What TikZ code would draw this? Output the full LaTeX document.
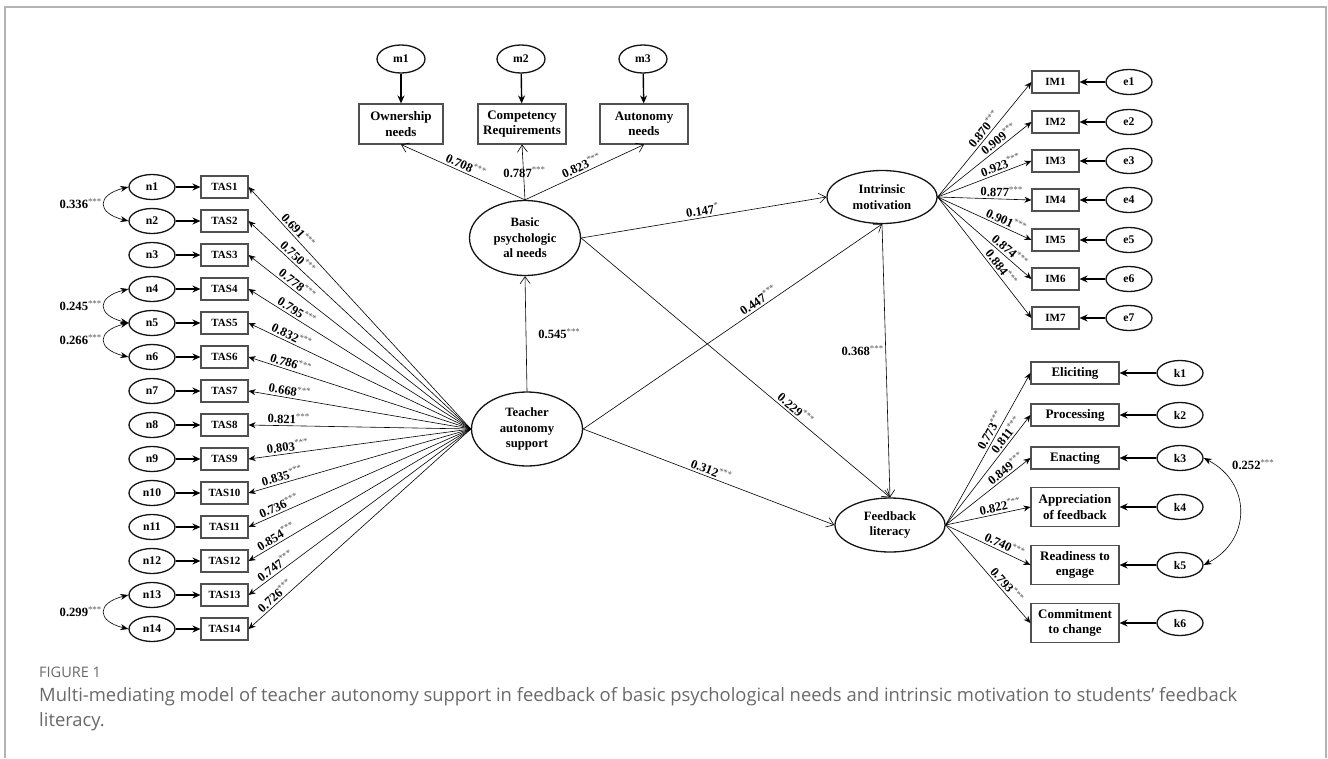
\documentclass[tikz,border=0pt]{standalone}
\usepackage{fontspec}
\setmainfont{Liberation Serif}
\newfontfamily\capfont{Open Sans}
\usepackage{tikz}
\usetikzlibrary{arrows.meta,shapes.geometric,positioning}
\usepackage{xcolor}
\definecolor{semblack}{RGB}{20,20,20}
\definecolor{boxgray}{RGB}{80,80,80}
\definecolor{stargray}{RGB}{85,85,85}
\definecolor{capgray}{RGB}{105,105,105}
\definecolor{framegray}{RGB}{180,180,180}
\newcommand{\sigstar}[1]{\textsuperscript{\textcolor{stargray}{\mdseries #1}}}
\tikzstyle{latent} = [ellipse, draw=semblack, line width=1.3pt, inner sep=0pt, minimum width=110pt, minimum height=54pt, align=center, font=\fontsize{12.7}{15.5}\selectfont\bfseries]
\tikzstyle{resid} = [ellipse, draw=semblack, line width=1.3pt, inner sep=0pt, minimum width=46pt, minimum height=25pt, font=\fontsize{11.7}{14}\selectfont\bfseries]
\tikzstyle{item} = [rectangle, draw=boxgray, line width=1.1pt, inner sep=0pt, minimum width=47pt, minimum height=22pt, font=\fontsize{11}{13}\selectfont\bfseries]
\tikzstyle{dimension} = [rectangle, draw=boxgray, line width=1.1pt, inner sep=0pt, minimum width=88pt, minimum height=22pt, align=center, font=\fontsize{13}{15.5}\selectfont\bfseries]
\tikzstyle{effect} = [line width=0.6pt, -{Straight Barb[length=7pt,width=10pt]}]
\tikzstyle{loading} = [line width=0.6pt, -{Stealth[length=7pt,width=6pt]}]
\tikzstyle{errarrow} = [line width=1.4pt, -{Stealth[length=8pt,width=7pt]}]
\tikzstyle{covar} = [line width=0.6pt, {Stealth[length=8pt,width=6pt]}-{Stealth[length=8pt,width=6pt]}]
\tikzstyle{coef} = [font=\fontsize{12.6}{15}\selectfont\bfseries, inner sep=2pt]

\begin{document}
\begin{tikzpicture}[x=1pt, y=1pt]
    \useasboundingbox (0,0) rectangle (1328,-758);
    % Frame
    \draw[framegray, line width=1.5pt] (5,-758) -- (5,-7) -- (1326,-7) -- (1326,-758);

    % Latent variables
    \node[latent, minimum width=111pt, minimum height=74pt] (teacher) at (527,-429) {Teacher\\autonomy\\support};
    \node[latent, minimum width=111pt, minimum height=75pt] (basic) at (525,-238) {Basic\\psychologic\\al needs};
    \node[latent, minimum height=53pt] (intrinsic) at (882,-197) {Intrinsic\\motivation};
    \node[latent] (feedback) at (890,-525) {Feedback\\literacy};

    % Basic psychological needs
    \node[resid, minimum width=48pt, minimum height=28pt] (m1) at (401,-59) {m1};
    \node[resid, minimum width=48pt, minimum height=28pt] (m2) at (521,-59) {m2};
    \node[resid, minimum width=48pt, minimum height=28pt] (m3) at (643,-59) {m3};
    \node[dimension, minimum width=84pt, minimum height=40pt] (owner) at (401,-124) {Ownership\\needs};
    \node[dimension, minimum height=40pt] (compet) at (522,-124) {Competency\\Requirements};
    \node[dimension, minimum height=40pt] (autonomy) at (644,-124) {Autonomy\\needs};
    \draw[errarrow] (m1) -- (owner);
    \draw[errarrow] (m2) -- (compet);
    \draw[errarrow] (m3) -- (autonomy);
    \draw[effect] (basic.north) -- (owner.south) node[coef, midway, above, sloped] {0.708\sigstar{***}};
    \draw[effect] (basic.north) -- (compet.south) node[coef, midway, xshift=1pt] {0.787\sigstar{***}};
    \draw[effect] (basic.north) -- (autonomy.south) node[coef, midway, above, sloped] {0.823\sigstar{***}};

    % Teacher autonomy support items
    \node[resid] (n1) at (152,-187) {n1};
    \node[resid] (n2) at (152,-221) {n2};
    \node[resid] (n3) at (152,-255) {n3};
    \node[resid] (n4) at (152,-289) {n4};
    \node[resid] (n5) at (152,-323) {n5};
    \node[resid] (n6) at (152,-357) {n6};
    \node[resid] (n7) at (152,-391) {n7};
    \node[resid] (n8) at (152,-425) {n8};
    \node[resid] (n9) at (152,-459) {n9};
    \node[resid] (n10) at (152,-493) {n10};
    \node[resid] (n11) at (152,-527) {n11};
    \node[resid] (n12) at (152,-561) {n12};
    \node[resid] (n13) at (152,-595) {n13};
    \node[resid] (n14) at (152,-629) {n14};

    \node[item] (tas1) at (224.5,-187) {TAS1};
    \node[item] (tas2) at (224.5,-221) {TAS2};
    \node[item] (tas3) at (224.5,-255) {TAS3};
    \node[item] (tas4) at (224.5,-289) {TAS4};
    \node[item] (tas5) at (224.5,-323) {TAS5};
    \node[item] (tas6) at (224.5,-357) {TAS6};
    \node[item] (tas7) at (224.5,-391) {TAS7};
    \node[item] (tas8) at (224.5,-425) {TAS8};
    \node[item] (tas9) at (224.5,-459) {TAS9};
    \node[item] (tas10) at (224.5,-493) {TAS10};
    \node[item] (tas11) at (224.5,-527) {TAS11};
    \node[item] (tas12) at (224.5,-561) {TAS12};
    \node[item] (tas13) at (224.5,-595) {TAS13};
    \node[item] (tas14) at (224.5,-629) {TAS14};

    \draw[errarrow] (n1) -- (tas1);
    \draw[errarrow] (n2) -- (tas2);
    \draw[errarrow] (n3) -- (tas3);
    \draw[errarrow] (n4) -- (tas4);
    \draw[errarrow] (n5) -- (tas5);
    \draw[errarrow] (n6) -- (tas6);
    \draw[errarrow] (n7) -- (tas7);
    \draw[errarrow] (n8) -- (tas8);
    \draw[errarrow] (n9) -- (tas9);
    \draw[errarrow] (n10) -- (tas10);
    \draw[errarrow] (n11) -- (tas11);
    \draw[errarrow] (n12) -- (tas12);
    \draw[errarrow] (n13) -- (tas13);
    \draw[errarrow] (n14) -- (tas14);

    % Loadings of teacher autonomy support
    \draw[loading] (teacher.west) -- (tas1.east) node[coef, pos=0.8, above, sloped] {0.691\sigstar{***}};
    \draw[loading] (teacher.west) -- (tas2.east) node[coef, pos=0.8, above, sloped] {0.750\sigstar{***}};
    \draw[loading] (teacher.west) -- (tas3.east) node[coef, pos=0.8, above, sloped] {0.778\sigstar{***}};
    \draw[loading] (teacher.west) -- (tas4.east) node[coef, pos=0.8, above, sloped] {0.795\sigstar{***}};
    \draw[loading] (teacher.west) -- (tas5.east) node[coef, pos=0.82, above, sloped] {0.832\sigstar{***}};
    \draw[loading] (teacher.west) -- (tas6.east) node[coef, pos=0.82, above, sloped] {0.786\sigstar{***}};
    \draw[loading] (teacher.west) -- (tas7.east) node[coef, pos=0.82, above, sloped] {0.668\sigstar{***}};
    \draw[loading] (teacher.west) -- (tas8.east) node[coef, pos=0.82, above, sloped] {0.821\sigstar{***}};
    \draw[loading] (teacher.west) -- (tas9.east) node[coef, pos=0.82, above, sloped] {0.803\sigstar{***}};
    \draw[loading] (teacher.west) -- (tas10.east) node[coef, pos=0.84, above, sloped] {0.835\sigstar{***}};
    \draw[loading] (teacher.west) -- (tas11.east) node[coef, pos=0.85, above, sloped] {0.736\sigstar{***}};
    \draw[loading] (teacher.west) -- (tas12.east) node[coef, pos=0.86, above, sloped] {0.854\sigstar{***}};
    \draw[loading] (teacher.west) -- (tas13.east) node[coef, pos=0.86, above, sloped] {0.747\sigstar{***}};
    \draw[loading] (teacher.west) -- (tas14.east) node[coef, pos=0.86, above, sloped] {0.726\sigstar{***}};

    % Error covariances
    \draw[covar] (n1.west) .. controls +(-32,-8) and +(-32,8) .. (n2.west);
    \draw[covar] (n4.west) .. controls +(-32,-8) and +(-32,8) .. (n5.west);
    \draw[covar] (n5.west) .. controls +(-32,-8) and +(-32,8) .. (n6.west);
    \draw[covar] (n13.west) .. controls +(-32,-8) and +(-32,8) .. (n14.west);
    \node[coef, anchor=east] (cov12) at (104,-204) {0.336\sigstar{***}};
    \node[coef, anchor=east] (cov45) at (104,-306) {0.245\sigstar{***}};
    \node[coef, anchor=east] (cov56) at (104,-340) {0.266\sigstar{***}};
    \node[coef, anchor=east] (cov1314) at (104,-612) {0.299\sigstar{***}};

    % Intrinsic motivation items
    \node[item] (im1) at (1055.5,-82) {IM1};
    \node[item] (im2) at (1055.5,-122) {IM2};
    \node[item] (im3) at (1055.5,-161) {IM3};
    \node[item] (im4) at (1055.5,-200) {IM4};
    \node[item] (im5) at (1055.5,-240) {IM5};
    \node[item] (im6) at (1055.5,-279) {IM6};
    \node[item] (im7) at (1055.5,-318) {IM7};
    \node[resid] (e1) at (1129,-82) {e1};
    \node[resid] (e2) at (1129,-122) {e2};
    \node[resid] (e3) at (1129,-161) {e3};
    \node[resid] (e4) at (1129,-200) {e4};
    \node[resid] (e5) at (1129,-240) {e5};
    \node[resid] (e6) at (1129,-279) {e6};
    \node[resid] (e7) at (1129,-318) {e7};
    \draw[errarrow] (e1) -- (im1);
    \draw[errarrow] (e2) -- (im2);
    \draw[errarrow] (e3) -- (im3);
    \draw[errarrow] (e4) -- (im4);
    \draw[errarrow] (e5) -- (im5);
    \draw[errarrow] (e6) -- (im6);
    \draw[errarrow] (e7) -- (im7);
    \draw[loading] (intrinsic.east) -- (im1.west) node[coef, pos=0.55, above, sloped] {0.870\sigstar{***}};
    \draw[loading] (intrinsic.east) -- (im2.west) node[coef, pos=0.7, above, sloped] {0.909\sigstar{***}};
    \draw[loading] (intrinsic.east) -- (im3.west) node[coef, pos=0.7, above, sloped] {0.923\sigstar{***}};
    \draw[loading] (intrinsic.east) -- (im4.west) node[coef, pos=0.68, above, sloped] {0.877\sigstar{***}};
    \draw[loading] (intrinsic.east) -- (im5.west) node[coef, pos=0.7, above, sloped] {0.901\sigstar{***}};
    \draw[loading] (intrinsic.east) -- (im6.west) node[coef, pos=0.72, above, sloped] {0.874\sigstar{***}};
    \draw[loading] (intrinsic.east) -- (im7.west) node[coef, pos=0.62, above, sloped] {0.884\sigstar{***}};

    % Feedback literacy dimensions
    \node[dimension] (elicit) at (1075,-373) {Eliciting};
    \node[dimension] (process) at (1075,-415) {Processing};
    \node[dimension] (enact) at (1075,-458) {Enacting};
    \node[dimension, minimum height=39pt] (apprec) at (1075,-507) {Appreciation\\of feedback};
    \node[dimension, minimum height=39pt] (ready) at (1075,-565) {Readiness to\\engage};
    \node[dimension, minimum height=39pt] (commit) at (1075,-623) {Commitment\\to change};
    \node[resid] (k1) at (1180,-373) {k1};
    \node[resid] (k2) at (1180,-415) {k2};
    \node[resid] (k3) at (1180,-458) {k3};
    \node[resid] (k4) at (1180,-507) {k4};
    \node[resid] (k5) at (1180,-565) {k5};
    \node[resid] (k6) at (1180,-623) {k6};
    \draw[errarrow] (k1) -- (elicit);
    \draw[errarrow] (k2) -- (process);
    \draw[errarrow] (k3) -- (enact);
    \draw[errarrow] (k4) -- (apprec);
    \draw[errarrow] (k5) -- (ready);
    \draw[errarrow] (k6) -- (commit);
    \draw[loading] (feedback.east) -- (elicit.west) node[coef, pos=0.6, above, sloped] {0.773\sigstar{***}};
    \draw[loading] (feedback.east) -- (process.west) node[coef, pos=0.78, above, sloped] {0.811\sigstar{***}};
    \draw[loading] (feedback.east) -- (enact.west) node[coef, pos=0.76, above, sloped] {0.849\sigstar{***}};
    \draw[loading] (feedback.east) -- (apprec.west) node[coef, pos=0.66, above, sloped] {0.822\sigstar{***}};
    \draw[loading] (feedback.east) -- (ready.west) node[coef, pos=0.66, above, sloped] {0.740\sigstar{***}};
    \draw[loading] (feedback.east) -- (commit.west) node[coef, pos=0.66, above, sloped] {0.793\sigstar{***}};
    \draw[covar] (k3.east) .. controls +(48,-25) and +(48,25) .. (k5.east);
    \node[coef, anchor=west] (cov35) at (1230,-465) {0.252\sigstar{***}};

    % Structural paths
    \draw[effect] (teacher.north) -- (basic.south) node[coef, midway, right=10pt] {0.545\sigstar{***}};
    \draw[effect] (basic.east) -- (intrinsic.west) node[coef, midway, above, sloped] {0.147\sigstar{*}};
    \draw[effect] (teacher.east) -- (intrinsic.south) node[coef, pos=0.6, above, sloped] {0.447\sigstar{***}};
    \draw[effect] (basic.east) -- (feedback.north) node[coef, pos=0.68, above, sloped] {0.229\sigstar{***}};
    \draw[effect] (intrinsic.south) -- (feedback.north) node[coef, midway, left, yshift=10pt] {0.368\sigstar{***}};
    \draw[effect] (teacher.east) -- (feedback.west) node[coef, midway, above, sloped] {0.312\sigstar{***}};

    % Caption
    \node[font=\capfont\fontsize{14.5}{16}\selectfont, text=capgray, anchor=west, inner sep=0pt] (figlabel) at (39,-672) {FIGURE 1};
    \node[font=\capfont\fontsize{18.4}{25}\selectfont, text=capgray, anchor=north west, align=left, inner sep=0pt] (caption) at (39,-687) {Multi-mediating model of teacher autonomy support in feedback of basic psychological needs and intrinsic motivation to students’ feedback\\literacy.};
\end{tikzpicture}
\end{document}
